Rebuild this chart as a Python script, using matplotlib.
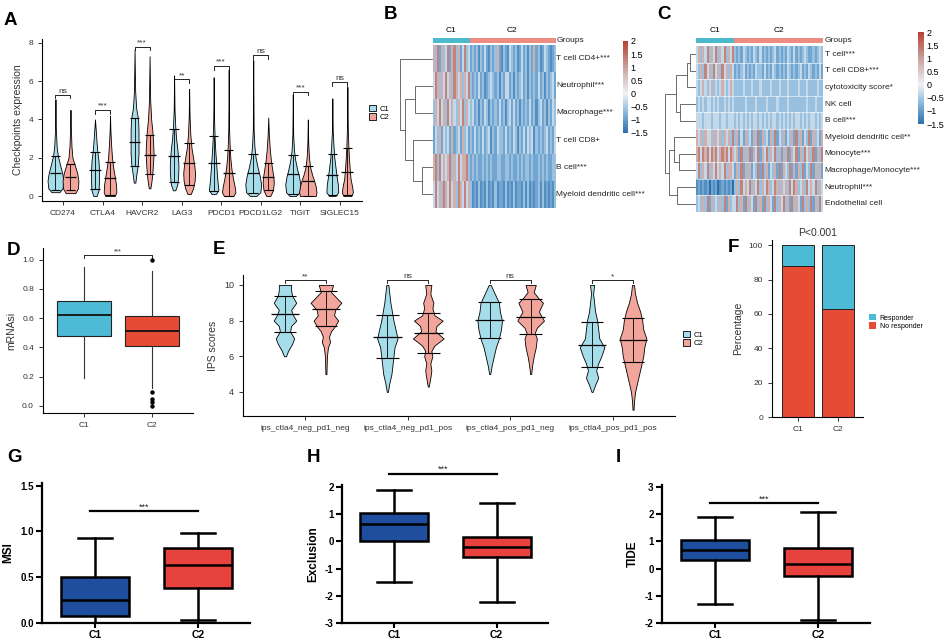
import matplotlib
matplotlib.use("Agg")
import matplotlib.pyplot as plt
import numpy as np
from matplotlib.colors import LinearSegmentedColormap, ListedColormap, Normalize
from matplotlib.patches import Patch
from matplotlib.transforms import blended_transform_factory
import matplotlib.cm as cm

plt.rcParams['font.family'] = ['Liberation Sans', 'DejaVu Sans']
NARROW = ['Liberation Sans Narrow', 'Liberation Sans', 'DejaVu Sans']

# ---------------- data ----------------
# A: checkpoint violins (lower line, middle line, upper line) and outlines (y, half width)
genes = ["CD274", "CTLA4", "HAVCR2", "LAG3", "PDCD1", "PDCD1LG2", "TIGIT", "SIGLEC15"]
a_c1_lines = [(0.3, 1.2, 2.1), (0.35, 1.35, 2.3), (1.55, 2.8, 4.05), (0.75, 2.1, 3.5),
              (0.25, 1.75, 3.15), (0.15, 1.2, 2.2), (0.1, 1.15, 2.15), (0.05, 1.1, 2.2)]
a_c2_lines = [(0.3, 1.0, 1.65), (0.05, 0.92, 1.78), (1.15, 2.15, 3.2), (0.6, 1.7, 2.75),
              (0.0, 1.2, 2.4), (0.3, 1.0, 1.7), (0.0, 0.8, 1.55), (0.05, 1.25, 2.5)]
a_c1_y = [[0.2, 0.4, 0.8, 1.2, 1.6, 2.1, 2.6, 3.5, 5.05],
          [0.0, 0.3, 0.8, 1.3, 1.8, 2.3, 2.8, 3.4, 4.0],
          [0.7, 1.2, 1.6, 2.2, 2.8, 3.4, 4.0, 4.6, 5.5, 7.65],
          [0.3, 0.6, 1.0, 1.5, 2.0, 2.5, 3.0, 3.6, 4.5, 6.3],
          [0.1, 0.3, 0.7, 1.2, 1.8, 2.4, 3.0, 4.0, 6.2],
          [0.0, 0.2, 0.6, 1.0, 1.5, 2.0, 2.6, 3.5, 7.1],
          [0.0, 0.2, 0.6, 1.0, 1.4, 1.9, 2.4, 3.2, 5.3],
          [0.0, 0.2, 0.6, 1.0, 1.5, 2.0, 2.6, 3.4, 5.1]]
a_c1_w = [[0.10, 0.18, 0.20, 0.17, 0.12, 0.06, 0.03, 0.01, 0],
          [0.04, 0.09, 0.10, 0.10, 0.09, 0.06, 0.04, 0.02, 0],
          [0.02, 0.05, 0.08, 0.10, 0.10, 0.10, 0.09, 0.04, 0.015, 0],
          [0.03, 0.08, 0.10, 0.11, 0.10, 0.08, 0.05, 0.03, 0.01, 0],
          [0.05, 0.12, 0.10, 0.08, 0.06, 0.04, 0.025, 0.01, 0],
          [0.08, 0.18, 0.20, 0.17, 0.11, 0.06, 0.03, 0.01, 0],
          [0.08, 0.17, 0.19, 0.16, 0.11, 0.06, 0.03, 0.01, 0],
          [0.08, 0.15, 0.14, 0.11, 0.08, 0.05, 0.03, 0.01, 0]]
a_c2_y = [[0.15, 0.4, 0.8, 1.2, 1.6, 2.0, 2.6, 3.5, 4.5],
          [0.0, 0.2, 0.6, 1.0, 1.5, 2.0, 2.6, 3.4, 4.2],
          [0.4, 0.8, 1.2, 1.8, 2.2, 2.8, 3.4, 4.0, 5.0, 7.3],
          [0.1, 0.4, 0.8, 1.2, 1.6, 2.0, 2.5, 3.2, 4.2, 5.6],
          [0.0, 0.2, 0.5, 0.9, 1.4, 2.0, 2.6, 3.5, 6.6],
          [0.0, 0.3, 0.7, 1.0, 1.4, 1.8, 2.4, 3.2, 4.1],
          [0.0, 0.2, 0.5, 0.8, 1.1, 1.5, 2.0, 2.8, 4.0],
          [0.0, 0.2, 0.5, 0.9, 1.4, 2.0, 2.6, 3.6, 5.7]]
a_c2_w = [[0.12, 0.19, 0.20, 0.17, 0.11, 0.05, 0.025, 0.01, 0],
          [0.12, 0.16, 0.15, 0.12, 0.08, 0.05, 0.03, 0.01, 0],
          [0.02, 0.05, 0.07, 0.09, 0.10, 0.09, 0.07, 0.04, 0.015, 0],
          [0.04, 0.10, 0.14, 0.15, 0.13, 0.10, 0.06, 0.03, 0.01, 0],
          [0.12, 0.17, 0.15, 0.11, 0.07, 0.04, 0.025, 0.01, 0],
          [0.05, 0.12, 0.14, 0.13, 0.10, 0.07, 0.04, 0.015, 0],
          [0.20, 0.22, 0.20, 0.16, 0.11, 0.06, 0.03, 0.01, 0],
          [0.10, 0.14, 0.12, 0.08, 0.06, 0.04, 0.025, 0.01, 0]]
a_sig_y = [5.3, 4.5, 7.8, 6.1, 6.8, 7.35, 5.45, 5.95]
a_sig = ["ns", "***", "***", "**", "***", "ns", "***", "ns"]

# B / C: heatmaps, one digit per sample (level index), C1 samples then C2 samples
levels = [-1.5, -1.15, -0.9, -0.6, -0.3, 0.8, 1.3, 1.7]
b_rows = ["T cell CD4+***", "Neutrophil***", "Macrophage***", "T cell CD8+",
          "B cell***", "Myeloid dendritic cell***"]
b_c1 = ["536253 462563 524634", "465354 645365 453546", "354645 364543 546354",
        "243524 342523 425342", "563645 456354 645563", "464536 546453 654645"]
b_c2 = ["232313 242132 352132 143231 242313 252312 432123",
        "323242 312343 231324 423132 342313 232423 132342",
        "342313 243132 324231 342423 132324 231342 313243",
        "324232 423413 243324 232431 324243 413232 342324",
        "232322 323232 233223 323223 232332 322323 232233",
        "312131 213121 312213 121312 213131 212313 121213"]
b_merges = [(4, 5, 11), (1, 2, 18), (3, 6, 20), (7, 8, 28), (0, 9, 33)]

c_rows = ["T cell***", "T cell CD8+***", "cytotoxicity score*", "NK cell", "B cell***",
          "Myeloid dendritic cell**", "Monocyte***", "Macrophage/Monocyte***",
          "Neutrophil***", "Endothelial cell"]
c_c1 = ["453546 354635 463546", "435364 536453 645354", "434543 453434 543454",
        "343434 434343 343434", "444344 434443 443444", "545354 453545 354536",
        "564656 465645 656465", "463546 354645 463554", "121212 021201 212120",
        "343536 253435 362534"]
c_c2 = ["323243 232432 423232 342323 243242 323432 232343",
        "232342 323243 324232 432323 243232 342324 323242",
        "333343 334333 433334 333433 343333 433343 333433",
        "333334 333343 333433 334333 343333 333343 334333",
        "343434 343443 434343 443434 343434 434343 443434",
        "352425 342536 253425 362435 243526 352436 253425",
        "452635 362546 254635 463525 362546 253645 362536",
        "253625 352436 263524 352625 436252 536243 625352",
        "353645 463546 354653 465354 536465 345364 546354",
        "463526 354263 526354 263546 352635 426353 625364"]
c_merges = [(0, 1, 6), (10, 2, 9), (3, 4, 16), (11, 12, 20), (6, 7, 17),
            (5, 14, 22), (8, 9, 19), (15, 16, 27), (13, 17, 31)]
cbar_ticks = [2, 1.5, 1, 0.5, 0, -0.5, -1, -1.5]

# D: mRNAsi box stats
d_groups = ["C1", "C2"]
d_q1 = [0.48, 0.41]
d_med = [0.625, 0.515]
d_q3 = [0.72, 0.615]
d_lo = [0.19, 0.12]
d_hi = [0.95, 0.92]
d_fliers = [[], [1.0, 0.095, 0.05, 0.03, 0.0]]

# E: IPS violins
ips_groups = ["ips_ctla4_neg_pd1_neg", "ips_ctla4_neg_pd1_pos",
              "ips_ctla4_pos_pd1_neg", "ips_ctla4_pos_pd1_pos"]
e_c1_lines = [(7.35, 8.35, 9.4), (5.9, 7.1, 8.3), (7.05, 8.05, 9.05), (5.4, 6.65, 7.9)]
e_c2_lines = [(7.7, 8.65, 9.65), (6.2, 7.3, 8.45), (7.25, 8.2, 9.2), (5.7, 6.9, 8.15)]
e_c1_y = [[6.0, 6.3, 6.7, 7.0, 7.4, 7.7, 8.0, 8.3, 8.6, 9.0, 9.4, 9.7, 10.0],
          [4.0, 4.5, 5.0, 5.5, 6.0, 6.5, 7.0, 7.5, 8.0, 8.5, 9.0, 9.5, 10.0],
          [5.0, 5.5, 6.0, 6.5, 7.0, 7.5, 8.0, 8.5, 9.0, 9.5, 10.0],
          [4.0, 4.4, 4.8, 5.2, 5.6, 6.0, 6.5, 7.0, 7.5, 8.0, 8.5, 9.0, 9.5, 10.0]]
e_c1_w = [[0.01, 0.03, 0.07, 0.09, 0.05, 0.06, 0.11, 0.08, 0.06, 0.11, 0.07, 0.06, 0.06],
          [0.005, 0.02, 0.04, 0.05, 0.06, 0.07, 0.10, 0.08, 0.06, 0.045, 0.03, 0.02, 0.01],
          [0.005, 0.02, 0.04, 0.06, 0.09, 0.11, 0.12, 0.10, 0.09, 0.05, 0.01],
          [0.005, 0.03, 0.06, 0.04, 0.06, 0.09, 0.12, 0.07, 0.06, 0.05, 0.03, 0.02, 0.01, 0.02]]
e_c2_y = [[5.0, 6.0, 6.5, 6.8, 7.1, 7.4, 7.7, 8.0, 8.3, 8.6, 9.0, 9.3, 9.6, 10.0],
          [4.3, 4.8, 5.2, 5.6, 6.0, 6.3, 6.6, 7.0, 7.4, 7.7, 8.0, 8.3, 8.7, 9.0, 9.5, 10.0],
          [5.0, 5.5, 6.0, 6.5, 7.0, 7.3, 7.6, 8.0, 8.5, 9.0, 9.3, 9.6, 10.0],
          [3.0, 3.5, 4.0, 4.5, 5.0, 5.5, 6.0, 6.5, 7.0, 7.5, 8.0, 8.5, 9.0, 9.5, 10.0]]
e_c2_w = [[0.005, 0.01, 0.02, 0.04, 0.03, 0.05, 0.09, 0.12, 0.08, 0.09, 0.15, 0.10, 0.05, 0.07],
          [0.005, 0.02, 0.03, 0.02, 0.04, 0.03, 0.06, 0.15, 0.07, 0.08, 0.14, 0.06, 0.04, 0.05, 0.02, 0.03],
          [0.005, 0.015, 0.03, 0.05, 0.06, 0.04, 0.06, 0.13, 0.08, 0.12, 0.07, 0.03, 0.05],
          [0.005, 0.01, 0.02, 0.04, 0.06, 0.08, 0.10, 0.11, 0.13, 0.10, 0.09, 0.07, 0.04, 0.02, 0.01]]
e_sig = ["**", "ns", "ns", "*"]
e_sig_y = 10.28

# F: response percentages
f_groups = ["C1", "C2"]
f_no_resp = [88, 63]
f_resp = [12, 37]

# G/H/I: box stats (whislo, q1, med, q3, whishi) for C1, C2
g_stats = [(0.0, 0.08, 0.25, 0.5, 0.93), (0.03, 0.38, 0.63, 0.82, 0.98)]
h_stats = [(-1.5, 0.02, 0.62, 1.05, 1.88), (-2.22, -0.58, -0.22, 0.17, 1.4)]
i_stats = [(-1.3, 0.3, 0.7, 1.05, 1.9), (-1.9, -0.27, 0.17, 0.75, 2.07)]

# ---------------- styling ----------------
BLUE, RED = "#4DBBD5", "#E64B35"
LBLUE, LRED = "#A6DDEA", "#F2A59A"
GRP1, GRP2 = "#4CB9CC", "#EF8C82"
DBLUE, BRED = "#1F4E9E", "#E8423F"
TXT = "#333333"

W, H = 945, 640
fig = plt.figure(figsize=(9.45, 6.4), dpi=100)


def px_axes(l, t, r, b):
    return fig.add_axes([l / W, 1 - b / H, (r - l) / W, (b - t) / H])


def ftext(x, y, s, **kw):
    fig.text(x / W, 1 - y / H, s, **kw)


def classic(ax, fs=6):
    for s in ("top", "right"):
        ax.spines[s].set_visible(False)
    for s in ("left", "bottom"):
        ax.spines[s].set_linewidth(0.8)
    ax.tick_params(labelsize=fs, colors=TXT, width=0.7, length=3, labelcolor=TXT)


def violin(ax, x, ys, ws, color, lines, cap, midw):
    ys, ws = np.array(ys), np.array(ws)
    ax.fill_betweenx(ys, x - ws, x + ws, facecolor=color, edgecolor="black", lw=0.6)
    lo, mid, hi = lines
    ax.vlines(x, lo, hi, color="black", lw=0.6)
    ax.hlines([lo, hi], x - cap, x + cap, color="black", lw=0.8)
    ax.hlines(mid, x - midw, x + midw, color="black", lw=0.9)


def bracket(ax, x1, x2, y, drop, label, fs):
    ax.plot([x1, x1, x2, x2], [y - drop, y, y, y - drop], color="black", lw=0.6, clip_on=False)
    ax.text((x1 + x2) / 2, y, label, ha="center", va="bottom", fontsize=fs, color=TXT)


panel = dict(fontsize=13.5, fontweight="bold")
ftext(4, 25, "A", **panel)
ftext(384, 19, "B", **panel)
ftext(657, 19, "C", **panel)
ftext(7, 255, "D", **panel)
ftext(213, 254, "E", **panel)
ftext(728, 252, "F", **panel)
ftext(7, 462, "G", family=NARROW, **panel)
ftext(307, 462, "H", family=NARROW, **panel)
ftext(616, 462, "I", family=NARROW, **panel)

# ---------------- A ----------------
axA = px_axes(42, 39, 362, 201)
classic(axA)
for i in range(len(genes)):
    p = i + 1
    violin(axA, p - 0.19, a_c1_y[i], a_c1_w[i], LBLUE, a_c1_lines[i], 0.12, 0.15)
    violin(axA, p + 0.19, a_c2_y[i], a_c2_w[i], LRED, a_c2_lines[i], 0.12, 0.15)
    bracket(axA, p - 0.19, p + 0.19, a_sig_y[i], 0.2, a_sig[i], 6)
axA.set_xlim(0.47, 8.56)
axA.set_ylim(-0.26, 8.2)
axA.set_xticks(range(1, len(genes) + 1), genes)
axA.set_yticks([0, 2, 4, 6, 8])
axA.set_ylabel("Checkpoints expression", fontsize=7.5, color=TXT, labelpad=4)

vleg = [Patch(facecolor=LBLUE, edgecolor="black", lw=0.6), Patch(facecolor=LRED, edgecolor="black", lw=0.6)]
fig.legend(vleg, ["C1", "C2"], loc="center left", bbox_to_anchor=(362 / W, 1 - 113 / H),
           frameon=False, fontsize=5.5, handlelength=0.9, handleheight=0.9,
           labelspacing=0.1, handletextpad=0.5)

# ---------------- heatmaps ----------------
hm_cmap = LinearSegmentedColormap.from_list(
    "hm", [(0, "#2B6FAE"), (0.75 / 3.5, "#86B6DA"), (1.5 / 3.5, "#EEF2F5"),
           (2.5 / 3.5, "#C9A09C"), (1, "#B5412F")])
hm_norm = Normalize(-1.5, 2)


def draw_heatmap(l, r, top, bottom, den_left, rows, c1, c2, merges, cb_box, lab_fs, row_gaps):
    mat = np.array([[levels[int(ch)] for ch in (a + b).replace(" ", "")] for a, b in zip(c1, c2)])
    n1 = len(c1[0].replace(" ", ""))
    n2 = len(c2[0].replace(" ", ""))
    nr, nc = mat.shape
    ax = px_axes(l, top, r, bottom)
    ax.imshow(mat, cmap=hm_cmap, norm=hm_norm, aspect="auto", interpolation="nearest")
    if row_gaps:
        ax.hlines(np.arange(nr - 1) + 0.5, -0.5, nc - 0.5, color="white", lw=0.5, alpha=0.8)
    ax.axis("off")
    tr = blended_transform_factory(ax.transAxes, ax.transData)
    for i, name in enumerate(rows):
        ax.text(1.012, i, name, transform=tr, va="center", ha="left", fontsize=lab_fs, color="#222222")

    axg = px_axes(l, 38, r, 43)
    axg.imshow([[0] * n1 + [1] * n2], cmap=ListedColormap([GRP1, GRP2]),
               aspect="auto", interpolation="nearest")
    axg.axis("off")
    axg.text(1.012, 0.5, "Groups", transform=axg.transAxes, va="center", fontsize=lab_fs, color="#222222")
    axg.text((n1 - 1) / 2, -1.2, "C1", ha="center", va="bottom", fontsize=lab_fs)
    axg.text(n1 + (n2 - 1) / 2, -1.2, "C2", ha="center", va="bottom", fontsize=lab_fs)

    # dendrogram
    axd = px_axes(den_left, top, l, bottom)
    pos = {k: (float(k), 0.0) for k in range(nr)}
    for m, (a, b, h) in enumerate(merges):
        ya, ha = pos[a]
        yb, hb = pos[b]
        axd.plot([ha, h, h, hb], [ya, ya, yb, yb], color="#555555", lw=0.6)
        pos[nr + m] = ((ya + yb) / 2, h)
    axd.set_xlim(l - den_left, 0)
    axd.set_ylim(nr - 0.5, -0.5)
    axd.axis("off")

    cax = px_axes(*cb_box)
    cb = fig.colorbar(cm.ScalarMappable(norm=hm_norm, cmap=hm_cmap), cax=cax)
    cb.outline.set_visible(False)
    cb.set_ticks(cbar_ticks)
    cb.set_ticklabels([str(t).replace("-", "\u2212") for t in cbar_ticks])
    cax.tick_params(length=0, labelsize=6.5, pad=2)


draw_heatmap(433, 555, 45, 208, 398, b_rows, b_c1, b_c2, b_merges, (623, 41, 628, 133), 6, False)
draw_heatmap(696, 823, 46, 212, 665, c_rows, c_c1, c_c2, c_merges, (918, 32, 924, 124), 6, True)

# ---------------- D ----------------
axD = px_axes(43, 248, 193, 413)
classic(axD)
d_bx = [dict(q1=d_q1[k], med=d_med[k], q3=d_q3[k], whislo=d_lo[k], whishi=d_hi[k],
             fliers=d_fliers[k], label=d_groups[k]) for k in range(2)]
bp = axD.bxp(d_bx, positions=[1, 2], widths=0.8, patch_artist=True, showcaps=False,
             boxprops=dict(lw=0.8, edgecolor="#222222"), whiskerprops=dict(lw=0.8, color="#333333"),
             medianprops=dict(lw=1.3, color="#111111"),
             flierprops=dict(marker="o", ms=2.2, mfc="black", mec="black"))
for patch, col in zip(bp["boxes"], [BLUE, RED]):
    patch.set_facecolor(col)
axD.set_xlim(0.4, 2.6)
axD.set_ylim(-0.048, 1.08)
axD.set_yticks([0.0, 0.2, 0.4, 0.6, 0.8, 1.0])
axD.set_ylabel("mRNAsi", fontsize=7.5, color=TXT)
bracket(axD, 1, 2, 1.03, 0.02, "***", 5)

# ---------------- E ----------------
axE = px_axes(243, 275, 675, 416)
classic(axE, 6.5)
for i in range(len(ips_groups)):
    p = i + 1
    violin(axE, p - 0.2, e_c1_y[i], e_c1_w[i], LBLUE, e_c1_lines[i], 0.11, 0.14)
    violin(axE, p + 0.2, e_c2_y[i], e_c2_w[i], LRED, e_c2_lines[i], 0.11, 0.14)
    bracket(axE, p - 0.2, p + 0.2, e_sig_y, 0.17, e_sig[i], 6)
axE.set_xlim(0.39, 4.61)
axE.set_ylim(2.65, 10.56)
axE.set_yticks([4, 6, 8, 10])
axE.set_xticks(range(1, 5))
axE.set_xticklabels(ips_groups, fontsize=6, family=NARROW)
axE.set_ylabel("IPS scores", fontsize=7.5, color=TXT)
fig.legend(vleg, ["C1", "C2"], loc="center left", bbox_to_anchor=(676 / W, 1 - 339 / H),
           frameon=False, fontsize=5.5, handlelength=0.9, handleheight=0.9,
           labelspacing=0.1, handletextpad=0.5)

# ---------------- F ----------------
axF = px_axes(772, 240, 863, 417)
classic(axF)
axF.bar([1, 2], f_no_resp, width=0.8, color=RED, edgecolor="#222222", lw=0.7)
axF.bar([1, 2], f_resp, bottom=f_no_resp, width=0.8, color=BLUE, edgecolor="#222222", lw=0.7)
axF.set_xlim(0.35, 2.62)
axF.set_ylim(0, 103)
axF.set_yticks([0, 20, 40, 60, 80, 100])
axF.set_xticks([1, 2], f_groups)
axF.set_ylabel("Percentage", fontsize=7.5, color=TXT)
axF.set_title("P<0.001", fontsize=7.5, pad=3, color=TXT)
fig.legend([Patch(facecolor=BLUE), Patch(facecolor=RED)], ["Responder", "No responder"],
           loc="center left", bbox_to_anchor=(863 / W, 1 - 322 / H), frameon=False,
           fontsize=5, handlelength=1.0, handleheight=1.0, labelspacing=0.1, handletextpad=0.5)

# ---------------- G / H / I ----------------


def prism_box(box_px, stats, ylim, yticks, yfmt, ylabel, sig_y, xlim):
    ax = px_axes(*box_px)
    for s in ("top", "right"):
        ax.spines[s].set_visible(False)
    for s in ("left", "bottom"):
        ax.spines[s].set_linewidth(1.6)
    bx = [dict(whislo=s[0], q1=s[1], med=s[2], q3=s[3], whishi=s[4], fliers=[]) for s in stats]
    bp = ax.bxp(bx, positions=[1, 2], widths=0.66, capwidths=0.33, patch_artist=True,
                boxprops=dict(lw=1.8, edgecolor="black"), whiskerprops=dict(lw=1.8),
                capprops=dict(lw=1.8), medianprops=dict(lw=1.8, color="black"))
    for patch, col in zip(bp["boxes"], [DBLUE, BRED]):
        patch.set_facecolor(col)
    ax.set_xlim(*xlim)
    ax.set_ylim(*ylim)
    ax.set_yticks(yticks, [yfmt % t for t in yticks], fontsize=7, fontweight="bold", family=NARROW)
    ax.set_xticks([1, 2], ["C1", "C2"], fontsize=7.5, fontweight="bold", family=NARROW)
    ax.tick_params(axis="y", width=1.5, length=4, pad=2)
    ax.tick_params(axis="x", width=1.5, length=3.5, pad=1.5)
    ax.set_ylabel(ylabel, fontsize=8.5, fontweight="bold", family=NARROW, labelpad=4)
    ax.plot([0.95, 2.0], [sig_y, sig_y], color="black", lw=1.6, clip_on=False)
    ax.text(1.475, sig_y, "***", ha="center", va="bottom", fontsize=6.5, color="#222222")
    return ax


prism_box((42, 483, 250, 623), g_stats, (0, 1.53), [0.0, 0.5, 1.0, 1.5], "%.1f", "MSI", 1.22, (0.485, 2.5))
prism_box((342, 485, 548, 623), h_stats, (-3, 2.07), [-3, -2, -1, 0, 1, 2], "%d", "Exclusion", 2.48, (0.495, 2.5))
prism_box((662, 485, 870, 623), i_stats, (-2, 3.07), [-2, -1, 0, 1, 2, 3], "%d", "TIDE", 2.4, (0.485, 2.5))

fig.savefig("out.png", dpi=100)
